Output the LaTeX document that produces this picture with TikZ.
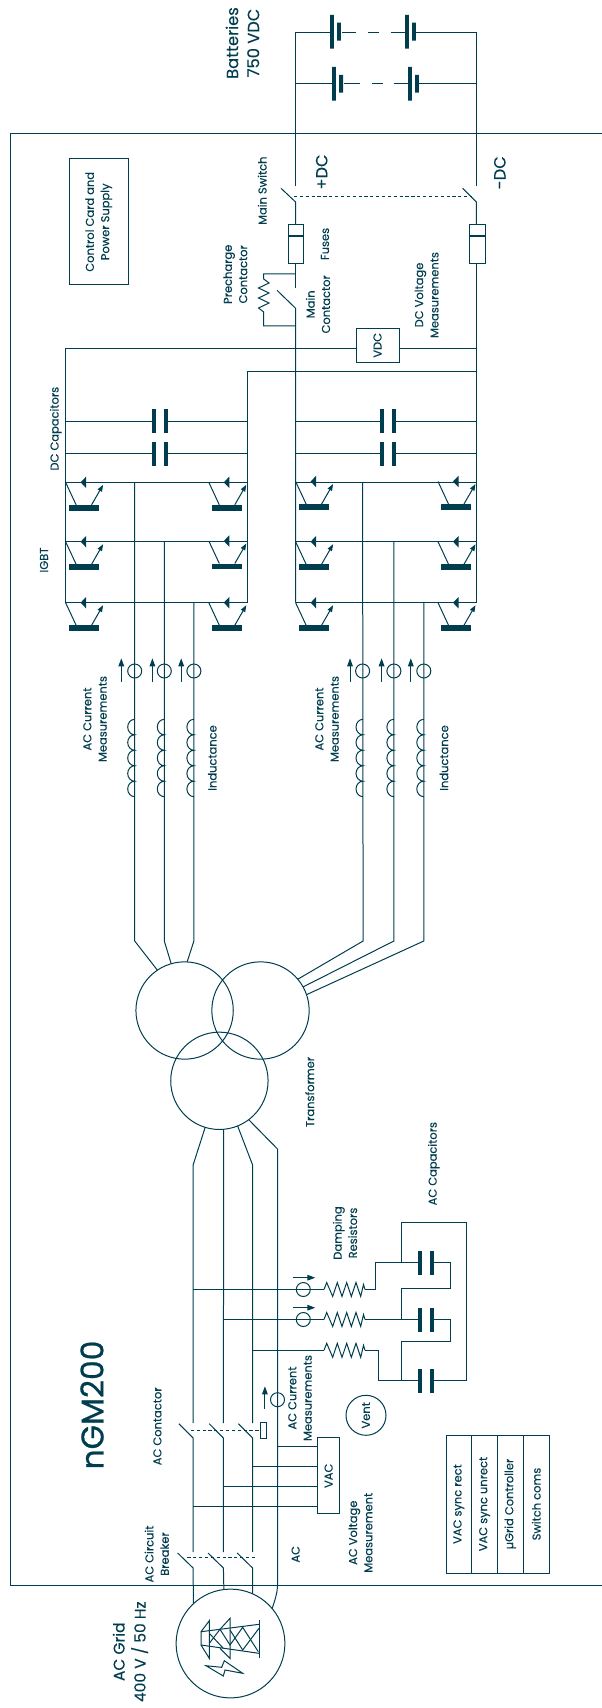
\documentclass[tikz,border=0pt]{standalone}
\usepackage{fontspec}
\setmainfont{Poppins}[FakeBold=0.2]
\newfontfamily\modelfont{Poppins}[FakeBold=0.7]
\usetikzlibrary{arrows.meta}
\definecolor{ngmteal}{HTML}{003D4F}

\tikzset{every picture/.style={line width=0.75pt}}
\tikzset{
	lbl/.style={rotate=90,align=center,inner sep=0pt,text=ngmteal,font=\fontsize{8.6}{11.5}\selectfont},
	biglbl/.style={lbl,font=\fontsize{12.2}{15.8}\selectfont},
	boxlbl/.style={lbl,draw,outer sep=0pt},
	tablecell/.style={boxlbl,minimum width=103.5pt,minimum height=19.3pt},
	ring/.style={circle,draw,inner sep=0pt,outer sep=0pt},
	sensor/.style={ring,minimum size=10.5pt},
	coil/.style={ring,minimum size=73pt},
	tiplink/.style={-{Triangle[length=6pt,width=4.2pt]}},
	gang/.style={dash pattern=on 2.4pt off 2pt},
	igbt/.pic={
		\draw (0,0) -- (10.5,-22.5);
		\draw [-{Triangle[length=5pt,width=3.6pt]}] (26,-22.5) -- (37.5,-2.5);
		\fill (3.4,-22.7) rectangle (33.4,-28.4);
		\fill (15,0) -- (20.6,5.8) -- (20.6,-5.8) -- cycle;
	},
	cap/.pic={
		\fill (-7.9,-12) rectangle (-4,12);
		\fill (4,-12) rectangle (7.9,12);
	},
	inductor/.pic={
		\draw (0,0) arc[start angle=90,end angle=270,x radius=7,y radius=7.74]
			arc[start angle=90,end angle=270,x radius=7,y radius=7.74]
			arc[start angle=90,end angle=270,x radius=7,y radius=7.74]
			arc[start angle=90,end angle=270,x radius=7,y radius=7.74]
			arc[start angle=90,end angle=270,x radius=7,y radius=7.74];
	},
	resistor/.pic={
		\draw (0,0) -- (2.7,7) -- (8.7,-7) -- (13.3,7) -- (18,-7) -- (22.7,7) -- (27.3,-7) -- (32,7) -- (36.7,-7) -- (39.5,5) -- (41,0);
	},
}

\begin{document}
\begin{tikzpicture}[x=0.75pt,y=0.75pt,yscale=-1,xscale=1,color=ngmteal]
	\useasboundingbox (0,0) rectangle (602,1708);

	%Cabinet frame
	\draw (602,133.3) -- (10.4,133.3) -- (10.4,1585.7) -- (602,1585.7);

	%Batteries
	\draw (295.6,186) -- (295.6,32.3) -- (330,32.3) (342,32.3) -- (355.5,32.3) (367.5,32.3) -- (379,32.3) (390.5,32.3) -- (405,32.3) (416,32.3) -- (476.4,32.3) -- (476.4,186);
	\draw (295.6,84) -- (332,84) (344,84) -- (360,84) (371.6,84) -- (382.7,84) (394,84) -- (408,84) (419,84) -- (476.4,84);
	\fill (330,15) rectangle (333.8,48.7) (337,22.7) rectangle (340.8,40.7);
	\fill (405,15) rectangle (408.8,48.7) (412,22.7) rectangle (415.8,40.7);
	\fill (332,67) rectangle (335.8,100.7) (339.2,75) rectangle (343,92.7);
	\fill (408,67) rectangle (411.8,100.7) (415,75) rectangle (418.8,92.7);

	%Main switch and fuses
	\draw (281,188.3) -- (295.6,202) -- (295.6,224.3);
	\draw (462.6,188.3) -- (476.4,202) -- (476.4,224.3);
	\draw [gang] (294,196.5) -- (472,196.5);
	\draw (288,224.3) rectangle (303.6,263.7);
	\draw (469.5,224.3) rectangle (485.2,263.7);
	\draw [line width=1.5] (288,235.7) -- (303.6,235.7) (469.5,235.7) -- (485.2,235.7);
	\draw (295.6,263.7) -- (295.6,288.3);

	%Main and precharge contactor
	\draw (277,290.3) -- (295.6,308.3) -- (295.6,602.7);
	\draw (295.6,274) -- (263.7,274) -- (263.7,279) -- (269,283) -- (258.5,288) -- (269,293) -- (258.5,298) -- (269,303) -- (258.5,308) -- (263.7,312) -- (263.7,326) -- (295.6,326);

	%DC link
	\node [boxlbl,minimum width=25.5pt,minimum height=32.25pt] (vdc) at (377.5,345.3) {VDC};
	\draw (65.6,602.7) -- (65.6,348.3) -- (vdc.north |- 0,348.3);
	\draw (vdc.south |- 0,348.3) -- (476.4,348.3);
	\draw (476.4,263.7) -- (476.4,602.7);
	\draw (247.2,602.7) -- (247.2,371.7) -- (476.4,371.7);

	%DC capacitors
	\draw (65.6,421) -- (152,421) (167.8,421) -- (247.2,421);
	\draw (65.6,453.7) -- (152,453.7) (167.8,453.7) -- (247.2,453.7);
	\draw (295.6,421) -- (380,421) (395.8,421) -- (476.4,421);
	\draw (295.6,453.7) -- (380,453.7) (395.8,453.7) -- (476.4,453.7);
	\pic at (159.9,421) {cap};
	\pic at (159.9,453.7) {cap};
	\pic at (387.9,421) {cap};
	\pic at (387.9,453.7) {cap};

	%IGBT rails
	\draw (65.6,482.3) -- (247.2,482.3) (295.6,482.3) -- (476.4,482.3);
	\draw (65.6,541.7) -- (247.2,541.7) (295.6,541.7) -- (476.4,541.7);
	\draw (65.6,602.7) -- (247.2,602.7) (295.6,602.7) -- (476.4,602.7);
	\pic at (65.6,482.3) {igbt};
	\pic at (65.6,541.7) {igbt};
	\pic at (65.6,602.7) {igbt};
	\pic at (208.8,482.3) {igbt};
	\pic at (208.8,541) {igbt};
	\pic at (208.8,602.7) {igbt};
	\pic at (295.6,481.5) {igbt};
	\pic at (295.6,541.7) {igbt};
	\pic at (295.6,602.7) {igbt};
	\pic at (438,481.5) {igbt};
	\pic at (438,541.7) {igbt};
	\pic at (438,602.7) {igbt};

	%Transformer
	\node [coil] (txl) at (184.6,1010.5) {};
	\node [coil] (txr) at (260.5,1010.5) {};
	\node [coil] (txb) at (219.4,1080.8) {};

	%Inverter phases
	\draw (134.7,482.3) -- (134.7,941) -- (txl.124.7);
	\draw (164.3,541.7) -- (164.3,941) -- (txl.106.9);
	\draw (193.9,602.7) -- (193.9,941) -- (txl.87);
	\draw (362.6,482.3) -- (363.1,941) -- (txr.40.1);
	\draw (393.9,541.7) -- (393.9,941) -- (txr.29.8);
	\draw (423.8,602.7) -- (423.8,941) -- (txr.19.8);

	%Inductance
	\pic at (134.7,719.3) {inductor};
	\pic at (164.3,719.3) {inductor};
	\pic at (193.9,719.3) {inductor};
	\pic at (363,719.3) {inductor};
	\pic at (393.9,719.3) {inductor};
	\pic at (423.8,719.3) {inductor};

	%AC current sensors
	\node [sensor] (csa) at (134.7,671) {};
	\node [sensor] (csb) at (164.3,671) {};
	\node [sensor] (csc) at (193.9,671) {};
	\node [sensor] (csd) at (362.6,671) {};
	\node [sensor] (cse) at (393.9,671) {};
	\node [sensor] (csf) at (423.8,671) {};
	\draw [tiplink] (121.3,681.7) -- (121.3,658.3);
	\draw [tiplink] (152.4,681.7) -- (152.4,658.3);
	\draw [tiplink] (181.2,681.7) -- (181.2,658.3);
	\draw [tiplink] (350,681.7) -- (350,658.3);
	\draw [tiplink] (381.6,681.7) -- (381.6,658.3);
	\draw [tiplink] (410.8,681.7) -- (410.8,658.3);

	%Grid
	\node [ring,minimum size=81.6pt] (grid) at (230.5,1643.5) {};

	%AC lines down to the grid
	\draw (txb.253.8) -- (193.1,1165) -- (193.1,1423);
	\draw (txb.275) -- (223.4,1423);
	\draw (txb.292.4) -- (252.6,1165) -- (252.6,1423);
	\draw (txb.307.5) -- (277.5,1149) -- (277.5,1585.7) .. controls (277.5,1592) and (275,1600) .. (grid.40.2);
	\draw (178.9,1423.7) -- (193.1,1438) -- (193.1,1552);
	\draw (209.2,1423.7) -- (223.4,1438) -- (223.4,1552);
	\draw (238.4,1423.7) -- (252.6,1438) -- (252.6,1552);
	\draw (177.7,1553) -- (193.1,1568) -- (grid.133.4);
	\draw (208,1553) -- (223.4,1568) -- (grid.97.5);
	\draw (237.2,1553) -- (252.6,1568) -- (grid.66);
	\draw [gang] (190.8,1430.3) -- (260,1430.3);
	\draw [gang] (187.3,1557.3) -- (255.3,1557.3);
	\draw (260,1422.3) rectangle (266,1438.3);

	%Neutral current sensor
	\node [sensor] (csn) at (277.5,1399.7) {};
	\draw [tiplink] (264.9,1409) -- (264.9,1386.3);

	%AC voltage box
	\node [boxlbl,minimum width=57.2pt,minimum height=16.65pt] (vac) at (328.6,1475.8) {VAC};
	\draw (277.5,1446) -- (vac.north |- 0,1446);
	\draw (252.6,1466) -- (vac.north |- 0,1466);
	\draw (223.4,1486.3) -- (vac.north |- 0,1486.3);
	\draw (193.1,1506) -- (vac.north |- 0,1506);

	%Damping resistors
	\node [sensor] (csg) at (303.3,1289.5) {};
	\node [sensor] (csh) at (303.3,1319.5) {};
	\draw [tiplink] (292.7,1277.7) -- (315.3,1277.7);
	\draw [tiplink] (292.7,1307.7) -- (315.3,1307.7);
	\draw (193.1,1289.5) -- (324,1289.5);
	\draw (223.4,1319.5) -- (324,1319.5);
	\draw (252.6,1350.3) -- (324,1350.3);
	\pic at (324,1289.5) {resistor};
	\pic at (324,1319.5) {resistor};
	\pic at (324,1350.3) {resistor};

	%AC capacitors
	\draw (365,1289.5) -- (375,1289.5) -- (375,1262.7) -- (418,1262.7) (434,1262.7) -- (450.7,1262.7) -- (450.7,1288.3) -- (401.7,1288.3) -- (401.7,1319.5);
	\draw (365,1319.5) -- (418,1319.5) (434,1319.5) -- (450.7,1319.5) -- (450.7,1341) -- (401.7,1341) -- (401.7,1380.7);
	\draw (365,1350.3) -- (378.7,1350.3) -- (378.7,1380.7) -- (418,1380.7) (434,1380.7) -- (466,1380.7) -- (466,1222.3) -- (401.7,1222.3) -- (401.7,1262.7);
	\pic at (426,1262.7) {cap};
	\pic at (426,1319.5) {cap};
	\pic at (426,1380.7) {cap};

	%Pylon
	\draw (201,1631.7) -- (259,1624.3) (201,1645) -- (259,1653.3) (201,1631.7) -- (201,1645);
	\draw (201,1631.7) -- (209.3,1620.7) -- (209.3,1658.3) -- (201,1645);
	\draw (220,1629.3) -- (230,1618.3) -- (230,1658.3) -- (220,1648.3);
	\draw (259,1620) -- (259,1658.3);
	\draw (209.3,1643.3) -- (220,1629.3) -- (230,1645) -- (242.7,1627.3) -- (258.3,1651.7);
	\draw (209.3,1633.3) -- (223.3,1648.3) (230,1630) -- (242.7,1650) -- (259,1628.3);
	%Lightning
	\draw (206,1665.7) -- (223.3,1676) -- (225,1670) -- (242.7,1673.3) -- (224.3,1660.7) -- (221.7,1667.3) -- cycle;

	% Text Node
	\node [biglbl] (batlbl) at (242.5,43) {Batteries\\750 VDC};
	% Text Node
	\node [boxlbl,minimum width=94.7pt,minimum height=44.7pt] (ctrl) at (98.8,221.8) {Control Card and\\Power Supply};
	% Text Node
	\node [lbl] (mainsw) at (262.2,190.7) {Main Switch};
	% Text Node
	\node [biglbl] (pluslbl) at (321.7,172) {+DC};
	% Text Node
	\node [biglbl] (minuslbl) at (499.8,172.7) {-DC};
	% Text Node
	\node [lbl] (fuselbl) at (325,244) {Fuses};
	% Text Node
	\node [lbl] (prelbl) at (235.3,274.3) {Precharge\\Contactor};
	% Text Node
	\node [lbl] (mainlbl) at (318,304.3) {Main\\Contactor};
	% Text Node
	\node [lbl] (dcvlbl) at (426.6,295) {DC Voltage\\Measurements};
	% Text Node
	\node [lbl] (dccaplbl) at (55.7,428.7) {DC Capacitors};
	% Text Node
	\node [lbl] (igbtlbl) at (44,560) {IGBT};
	% Text Node
	\node [lbl] (acila) at (95,719) {AC Current\\Measurements};
	% Text Node
	\node [lbl] (acilb) at (327,719) {AC Current\\Measurements};
	% Text Node
	\node [lbl] (indla) at (212.3,758) {Inductance};
	% Text Node
	\node [lbl] (indlb) at (444,758) {Inductance};
	% Text Node
	\node [lbl] (txlbl) at (309.8,1092) {Transformer};
	% Text Node
	\node [lbl] (damplbl) at (345,1233) {Damping\\Resistors};
	% Text Node
	\node [lbl] (accaplbl) at (433.8,1163.7) {AC Capacitors};
	% Text Node
	\node [lbl] (acilc) at (300,1398) {AC Current\\Measurements};
	% Text Node
	\node [lbl] (acclbl) at (157.4,1426.3) {AC Contactor};
	% Text Node
	\node [lbl] (acblbl) at (156.8,1554) {AC Circuit\\Breaker};
	% Text Node
	\node [lbl,font=\modelfont\fontsize{23.5}{28}\selectfont] (model) at (92,1405) {nGM200};
	% Text Node
	\node [lbl,ring,minimum size=30pt] (vent) at (366,1415.3) {Vent};
	% Text Node
	\node [lbl] (aclbl) at (295.6,1554.3) {AC};
	% Text Node
	\node [lbl] (acvlbl) at (360.5,1532.7) {AC Voltage\\Measurement};
	% Text Node
	\node [biglbl,font=\fontsize{11.6}{15.8}\selectfont] (gridlbl) at (130.5,1651.7) {AC Grid\\400 V / 50 Hz};

	%Signal table
	\node [tablecell] (synca) at (458.9,1504) {VAC sync rect};
	\node [tablecell] (syncb) at (484.65,1504) {VAC sync unrect};
	\node [tablecell] (ugrid) at (510.35,1504) {µGrid Controller};
	\node [tablecell] (swcom) at (536.25,1504) {Switch coms};
\end{tikzpicture}
\end{document}
